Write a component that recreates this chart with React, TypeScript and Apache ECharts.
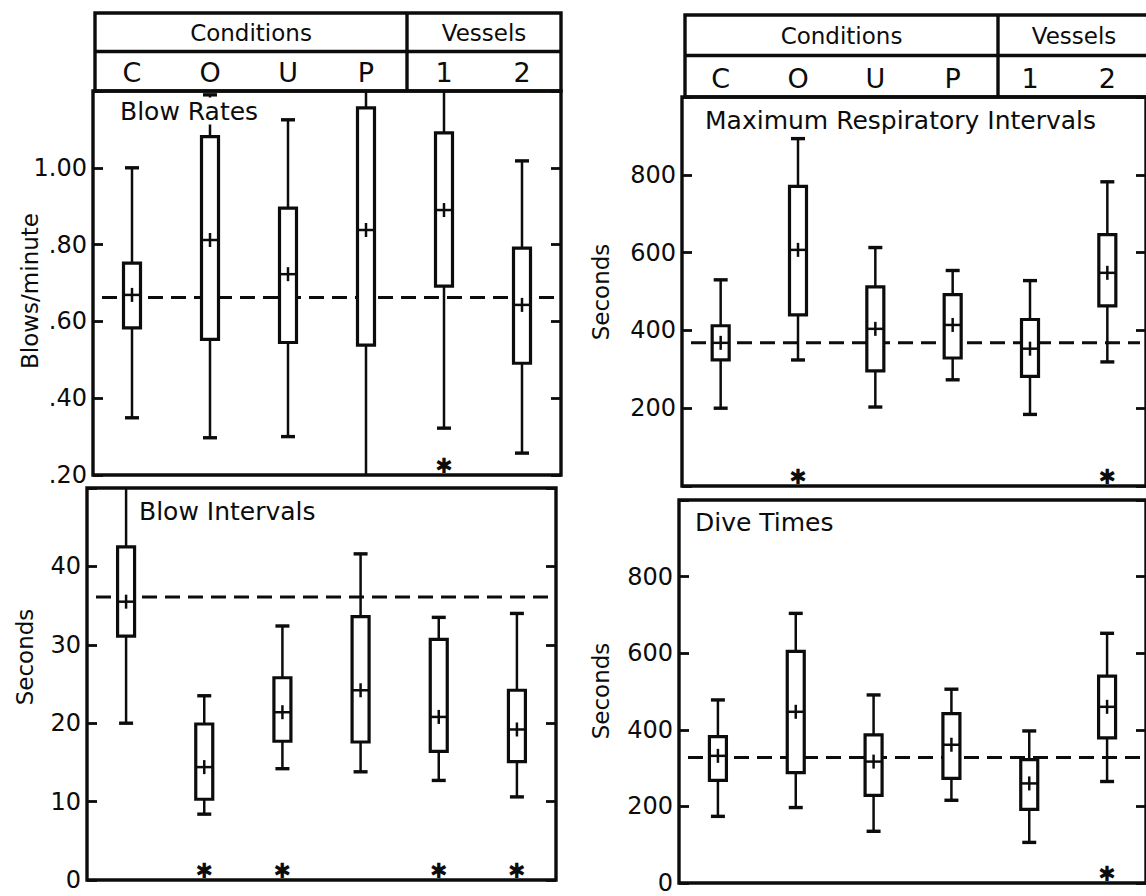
import React, { useEffect, useRef } from "react";
import * as echarts from "echarts";

const categories = ["C", "O", "U", "P", "1", "2"];
const conditionsLabel = "Conditions";
const vesselsLabel = "Vessels";

// each row: [lower whisker, lower quartile, mean, upper quartile, upper whisker]
const blowRates = [
  [0.349, 0.583, 0.669, 0.752, 1.0],
  [0.297, 0.553, 0.812, 1.081, 1.19],
  [0.3, 0.545, 0.723, 0.895, 1.125],
  [0.2, 0.538, 0.838, 1.156, 1.2],
  [0.322, 0.692, 0.89, 1.091, 1.2],
  [0.257, 0.491, 0.643, 0.791, 1.018],
];
const blowRatesRef = 0.662;
const blowRatesStars = ["1"];

const blowIntervals = [
  [20.0, 31.1, 35.5, 42.5, 50],
  [8.4, 10.3, 14.4, 19.9, 23.5],
  [14.2, 17.7, 21.4, 25.8, 32.4],
  [13.8, 17.6, 24.2, 33.6, 41.6],
  [12.7, 16.4, 20.8, 30.7, 33.5],
  [10.6, 15.1, 19.2, 24.2, 34.0],
];
const blowIntervalsRef = 36.1;
const blowIntervalsStars = ["O", "U", "1", "2"];

const maxRespIntervals = [
  [200, 324, 368, 412, 530],
  [324, 440, 607, 770, 893],
  [203, 296, 404, 512, 613],
  [273, 329, 414, 492, 554],
  [184, 282, 353, 428, 528],
  [319, 463, 548, 646, 782],
];
const maxRespRef = 368;
const maxRespStars = ["O", "2"];

const diveTimes = [
  [174, 268, 332, 382, 478],
  [197, 288, 447, 605, 704],
  [135, 229, 317, 387, 491],
  [216, 273, 361, 442, 506],
  [106, 192, 260, 322, 397],
  [265, 379, 460, 540, 652],
];
const diveRef = 328;
const diveStars = ["2"];

const INK = "#0c0c0c";
const FONT = "'DejaVu Sans', sans-serif";

const fmtRate = (v: number) =>
  v > 1.19 ? "" : v >= 1 ? v.toFixed(2) : v.toFixed(2).slice(1);

const panels = [
  {
    title: "Blow Rates", yName: "Blows/minute", data: blowRates, ref: blowRatesRef,
    stars: blowRatesStars, min: 0.2, max: 1.2, interval: 0.2, fmt: fmtRate, header: true,
    grid: { left: 93, top: 91, width: 468, height: 384 },
    titleAt: [118, 111], nameAt: [30, 291], titleBg: true,
  },
  {
    title: "Blow Intervals", yName: "Seconds", data: blowIntervals, ref: blowIntervalsRef,
    stars: blowIntervalsStars, min: 0, max: 50, interval: 10,
    fmt: (v: number) => (v >= 50 ? "" : String(v)), header: false,
    grid: { left: 87, top: 488, width: 469, height: 392 },
    titleAt: [139, 511], nameAt: [25, 657], titleBg: false,
  },
  {
    title: "Maximum Respiratory Intervals", yName: "Seconds", data: maxRespIntervals, ref: maxRespRef,
    stars: maxRespStars, min: 0, max: 1000, interval: 200,
    fmt: (v: number) => (v <= 0 || v >= 1000 ? "" : String(v)), header: true,
    grid: { left: 682, top: 97, width: 468, height: 389 },
    titleAt: [705, 120], nameAt: [601, 292], titleBg: false,
  },
  {
    title: "Dive Times", yName: "Seconds", data: diveTimes, ref: diveRef,
    stars: diveStars, min: 0, max: 1000, interval: 200,
    fmt: (v: number) => (v >= 1000 ? "" : String(v)), header: false,
    grid: { left: 679, top: 500, width: 471, height: 383 },
    titleAt: [695, 522], nameAt: [601, 691], titleBg: false,
  },
];

const renderBox = (params: any, api: any) => {
  const i = api.value(0);
  const pt = (k: number) => api.coord([i, api.value(k)]);
  const lo = pt(1), q1 = pt(2), mn = pt(3), q3 = pt(4), hi = pt(5);
  const x = lo[0];
  const cs = params.coordSys;
  const bw = 17, cw = 14;
  const thin = { stroke: INK, lineWidth: 2.5 };
  const children: any[] = [
    { type: "line", shape: { x1: x, y1: hi[1], x2: x, y2: lo[1] }, style: thin },
  ];
  if (hi[1] > cs.y + 2)
    children.push({ type: "line", shape: { x1: x - cw / 2, y1: hi[1], x2: x + cw / 2, y2: hi[1] }, style: { stroke: INK, lineWidth: 3.4 } });
  if (lo[1] < cs.y + cs.height - 2)
    children.push({ type: "line", shape: { x1: x - cw / 2, y1: lo[1], x2: x + cw / 2, y2: lo[1] }, style: { stroke: INK, lineWidth: 3.4 } });
  children.push({
    type: "rect",
    shape: { x: x - bw / 2, y: q3[1], width: bw, height: q1[1] - q3[1] },
    style: { fill: "#fff", stroke: INK, lineWidth: 3.2 },
  });
  children.push({ type: "line", shape: { x1: x - bw / 2, y1: mn[1], x2: x + bw / 2, y2: mn[1] }, style: thin });
  children.push({ type: "line", shape: { x1: x, y1: mn[1] - 7, x2: x, y2: mn[1] + 7 }, style: thin });
  return { type: "group", children };
};

const renderRef = (params: any, api: any) => {
  const y = api.coord([0, api.value(1)])[1];
  const cs = params.coordSys;
  return {
    type: "line",
    shape: { x1: cs.x + 9, y1: y, x2: cs.x + cs.width - 6, y2: y },
    style: { stroke: INK, lineWidth: 3, lineDash: [15, 8] },
  };
};

const renderStar = (params: any, api: any) => {
  const p = api.coord([api.value(0), api.value(1)]);
  return {
    type: "text",
    x: p[0],
    y: p[1] - 9,
    style: {
      text: "\u2731", fill: INK, fontSize: 21, fontWeight: "bold", fontFamily: FONT,
      align: "center", verticalAlign: "middle", textAlign: "center", textVerticalAlign: "middle",
    },
  };
};

const textEl = (text: string, x: number, y: number, size: number, extra: any = {}) => ({
  type: "text",
  x, y, z: 100,
  style: {
    text, fill: INK, fontSize: size, fontFamily: FONT,
    align: "center", verticalAlign: "middle", textAlign: "center", textVerticalAlign: "middle",
    ...extra,
  },
});

const headerEls = (p: any, x0: number, top: number, right: number, divider: number) => {
  const bottom = p.grid.top;
  const mid = (top + bottom) / 2 - 0.5;
  return [
    { type: "rect", z: 100, shape: { x: x0, y: top, width: right - x0, height: bottom - top }, style: { fill: "none", stroke: INK, lineWidth: 3.4 } },
    { type: "line", z: 100, shape: { x1: x0, y1: mid, x2: right, y2: mid }, style: { stroke: INK, lineWidth: 3.4 } },
    { type: "line", z: 100, shape: { x1: divider, y1: top, x2: divider, y2: bottom }, style: { stroke: INK, lineWidth: 3.4 } },
    textEl(conditionsLabel, (x0 + divider) / 2, (top + mid) / 2 + 1, 23),
    textEl(vesselsLabel, (divider + Math.min(right, p.grid.left + p.grid.width)) / 2, (top + mid) / 2 + 1, 23),
  ];
};

export default function App() {
  const ref = useRef<HTMLDivElement>(null);
  useEffect(() => {
    if (!ref.current) return;
    const chart = echarts.init(ref.current, undefined, { renderer: "svg" });
    const graphic: any[] = [];
    panels.forEach((p) => {
      graphic.push(
        textEl(p.title, p.titleAt[0], p.titleAt[1], 25, {
          align: "left", textAlign: "left",
          ...(p.titleBg ? { backgroundColor: "#fff", padding: [1, 2] } : {}),
        })
      );
      const nm: any = textEl(p.yName, p.nameAt[0], p.nameAt[1], 23);
      nm.rotation = Math.PI / 2;
      graphic.push(nm);
    });
    graphic.push(...headerEls(panels[0], 95, 13, 561, 407));
    graphic.push(...headerEls(panels[2], 685, 15, 1170, 998));

    const option: any = {
      animation: false,
      backgroundColor: "#fff",
      textStyle: { fontFamily: FONT, color: INK },
      grid: panels.map((p) => ({
        ...p.grid, show: true, borderColor: INK, borderWidth: 3.4, backgroundColor: "transparent",
      })),
      xAxis: panels.map((p, k) => ({
        type: "category", gridIndex: k, data: categories,
        position: p.header ? "top" : "bottom",
        axisLine: { show: false }, axisTick: { show: false }, splitLine: { show: false },
        axisLabel: { show: p.header, fontSize: 27, color: INK, fontFamily: FONT, margin: 5 },
      })),
      yAxis: panels.flatMap((p, k) => [
        {
          type: "value", gridIndex: k, min: p.min, max: p.max, interval: p.interval, position: "left",
          axisLine: { show: false }, splitLine: { show: false },
          axisTick: { show: true, inside: true, length: 10, lineStyle: { color: INK, width: 2.8 } },
          axisLabel: { show: true, fontSize: 24, color: INK, fontFamily: FONT, margin: 6, formatter: p.fmt, showMinLabel: true, showMaxLabel: true },
        },
        {
          type: "value", gridIndex: k, min: p.min, max: p.max, interval: p.interval, position: "right",
          axisLine: { show: false }, splitLine: { show: false },
          axisTick: { show: true, inside: true, length: 10, lineStyle: { color: INK, width: 2.8 } },
          axisLabel: { show: false },
        },
      ]),
      series: panels.flatMap((p, k) => [
        {
          type: "custom", name: p.title + " reference", xAxisIndex: k, yAxisIndex: 2 * k, z: 2, clip: true, silent: true,
          data: [[0, p.ref]], encode: { x: 0, y: 1 }, renderItem: renderRef,
        },
        {
          type: "custom", name: p.title, xAxisIndex: k, yAxisIndex: 2 * k, z: 3, clip: true, silent: true,
          data: p.data.map((d: number[], i: number) => [i, ...d]),
          encode: { x: 0, y: [1, 2, 3, 4, 5] }, renderItem: renderBox,
        },
        {
          type: "custom", name: p.title + " significant", xAxisIndex: k, yAxisIndex: 2 * k, z: 3, clip: false, silent: true,
          data: p.stars.map((s: string) => [categories.indexOf(s), p.min]),
          encode: { x: 0, y: 1 }, renderItem: renderStar,
        },
      ]),
      graphic,
    };
    chart.setOption(option);
    return () => chart.dispose();
  }, []);
  return (
    <div
      ref={ref}
      style={{ position: "fixed", left: 0, top: 0, width: 1146, height: 896, background: "#fff" }}
    />
  );
}
